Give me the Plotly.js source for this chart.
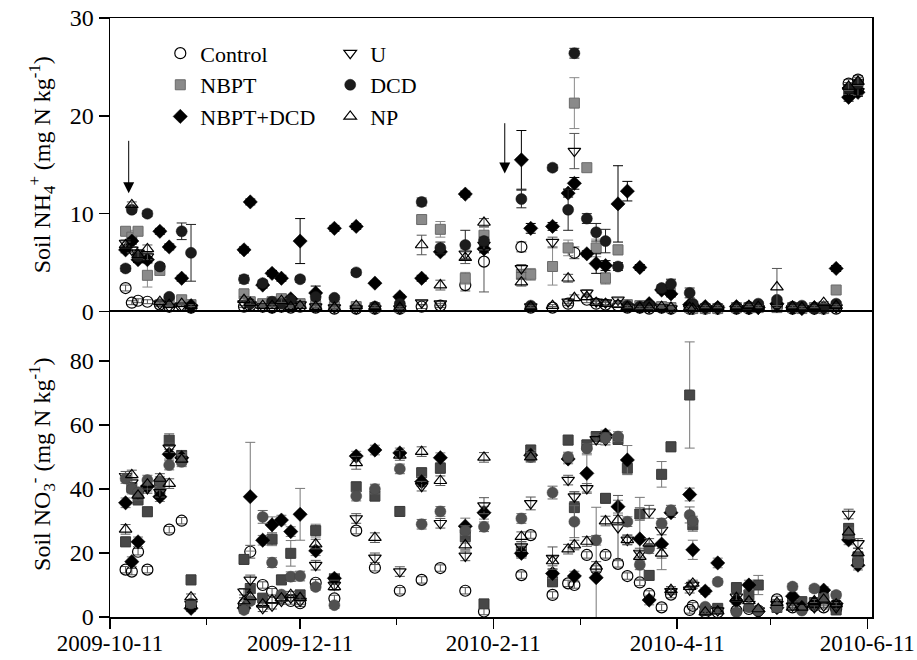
<!DOCTYPE html>
<html><head><meta charset="utf-8">
<script src="https://cdn.plot.ly/plotly-3.0.1.min.js"></script>
<style>html,body{margin:0;padding:0;background:#fff}#chart{width:917px;height:660px}</style>
</head><body><div id="chart"></div>
<script>
// Sampling dates
const dates = [
 '2009-10-16','2009-10-18','2009-10-20','2009-10-23','2009-10-27','2009-10-30','2009-11-03','2009-11-06',
 '2009-11-23','2009-11-25','2009-11-29','2009-12-02','2009-12-05','2009-12-08','2009-12-11','2009-12-16','2009-12-22','2009-12-29',
 '2010-01-04','2010-01-12','2010-01-19','2010-01-25','2010-02-02','2010-02-08',
 '2010-02-20','2010-02-23','2010-03-02','2010-03-07','2010-03-09','2010-03-13','2010-03-16','2010-03-19','2010-03-23','2010-03-26','2010-03-30',
 '2010-04-02','2010-04-06','2010-04-09','2010-04-15','2010-04-16','2010-04-20','2010-04-24',
 '2010-04-30','2010-05-04','2010-05-07','2010-05-13','2010-05-18','2010-05-21','2010-05-25','2010-05-28','2010-06-01',
 '2010-06-05','2010-06-08'];

const seriesNames = ['Control','NBPT','NBPT+DCD','U','DCD','NP'];

// Soil NH4+ (mg N kg-1)
const nhControl = [2.4,0.9,1.1,1.0,0.7,0.5,0.6,0.4,
 0.5,0.6,0.5,0.4,0.5,0.4,0.5,0.4,0.3,0.3,
 0.3,0.3,0.5,0.6,2.7,5.1,
 6.6,0.4,0.4,0.8,6.0,1.2,0.8,0.7,0.6,0.4,0.4,
 0.3,0.4,0.3,0.3,0.3,0.3,0.3,
 0.3,0.3,0.5,0.5,0.3,0.4,0.3,0.3,0.3,
 23.3,23.7];
const nhNBPT = [8.2,7.6,8.2,3.7,4.2,1.0,1.2,0.7,
 1.8,1.0,0.8,1.0,1.3,0.7,0.8,0.6,0.5,0.5,
 0.4,0.4,9.4,8.4,3.4,7.8,
 3.8,3.8,4.6,6.5,21.3,14.7,6.5,3.4,6.3,0.7,0.6,
 0.5,0.5,0.4,0.4,0.3,0.3,0.3,
 0.4,0.4,0.4,0.4,0.4,0.3,0.4,0.3,2.2,
 22.6,22.9];
const nhNBPTDCD = [6.3,7.2,5.3,5.3,8.2,6.6,3.4,0.6,
 6.3,11.2,2.7,3.9,3.4,1.3,7.2,1.9,8.5,8.7,
 2.9,1.5,3.4,6.1,12.0,6.4,
 15.5,8.5,8.7,12.1,13.1,5.9,4.9,4.7,11.0,12.3,4.5,
 0.8,2.2,1.8,0.7,0.6,0.5,0.4,
 0.5,0.4,0.4,0.8,0.4,0.3,0.4,0.4,4.4,
 21.9,22.4];
const nhU = [7.0,6.3,6.0,5.6,0.8,0.5,0.6,0.4,
 0.8,0.7,0.5,0.4,0.5,0.6,0.7,0.5,0.4,0.3,
 0.3,0.3,0.9,0.8,5.9,6.8,
 4.4,0.5,7.1,1.0,16.4,1.9,1.0,0.9,1.2,0.5,0.4,
 0.4,0.4,0.3,0.3,0.3,0.3,0.3,
 0.3,0.3,0.3,0.5,0.3,0.3,0.3,0.3,0.4,
 22.6,22.5];
const nhDCD = [4.4,10.4,5.6,10.0,4.6,1.5,8.2,6.0,
 3.3,0.8,2.9,1.0,0.8,1.2,3.3,1.5,1.4,4.0,
 0.5,0.8,11.2,6.5,6.8,7.2,
 11.5,0.6,14.7,10.4,26.4,9.5,8.1,7.2,4.6,0.6,0.5,
 0.6,2.4,2.8,1.9,0.8,0.4,0.4,
 0.4,0.5,0.8,1.2,0.5,0.6,0.3,0.4,0.8,
 22.8,23.3];
const nhNP = [6.8,10.9,5.8,6.4,1.0,0.7,0.8,0.6,
 1.2,0.9,0.6,0.6,1.1,0.5,0.6,0.5,0.4,0.6,
 0.5,0.4,6.8,2.7,5.5,9.1,
 3.0,0.5,0.6,3.4,1.4,1.5,0.9,0.8,0.7,0.5,0.4,
 0.4,0.5,0.4,0.4,0.3,0.5,0.5,
 0.5,0.6,0.5,2.5,0.5,0.4,0.5,0.9,0.6,
 23.0,23.5];

// NH4+ standard errors
const nhErrControl = [0.3,0.2,0.2,0.2,0.2,0.1,0.1,0.1,
 0.1,0.1,0.1,0.1,0.1,0.1,0.1,0.1,0.1,0.1,
 0.1,0.1,0.2,0.2,0.6,3.1,
 0.5,0.1,0.1,0.2,0.6,0.3,0.2,0.2,0.2,0.1,0.1,
 0.1,0.1,0.1,0.1,0.1,0.1,0.1,
 0.1,0.1,0.1,0.1,0.1,0.1,0.1,0.1,0.1,
 0.4,0.4];
const nhErrNBPT = [0.4,0.7,0.4,1.2,0.5,0.3,0.3,0.2,
 0.5,0.3,0.3,0.3,0.5,0.2,0.2,0.2,0.1,0.1,
 0.1,0.1,0.4,0.8,0.6,0.8,
 0.5,0.6,1.9,0.8,2.6,0.4,0.9,0.6,0.5,0.2,0.2,
 0.1,0.1,0.1,0.1,0.1,0.1,0.1,
 0.1,0.1,0.1,0.1,0.1,0.1,0.1,0.1,0.3,
 0.4,0.4];
const nhErrNBPTDCD = [0.3,0.3,0.3,0.3,0.3,0.3,0.3,0.1,
 0.3,0.3,0.3,0.3,0.3,0.2,2.3,0.7,0.3,0.3,
 0.2,0.2,0.3,0.3,0.3,0.4,
 3.0,0.5,0.4,0.4,0.6,0.3,1.0,0.5,3.9,1.0,0.3,
 0.1,0.3,0.3,0.1,0.1,0.1,0.1,
 0.1,0.1,0.1,0.2,0.1,0.1,0.1,0.1,0.3,
 0.4,0.4];
const nhErrU = [0.3,0.3,0.3,0.3,0.2,0.1,0.1,0.1,
 0.2,0.1,0.1,0.1,0.1,0.1,0.1,0.1,0.1,0.1,
 0.1,0.1,0.2,0.2,0.5,0.5,
 0.4,0.1,0.5,0.2,1.8,0.3,0.2,0.2,0.2,0.1,0.1,
 0.1,0.1,0.1,0.1,0.1,0.1,0.1,
 0.1,0.1,0.1,0.1,0.1,0.1,0.1,0.1,0.1,
 0.4,0.4];
const nhErrDCD = [0.3,0.3,0.3,0.3,0.3,0.2,0.85,2.9,
 0.4,0.2,0.3,0.2,0.2,0.2,0.3,0.3,0.2,0.3,
 0.1,0.2,0.4,0.6,1.5,0.4,
 0.9,0.1,0.3,2.1,0.5,0.5,0.9,1.2,0.4,0.1,0.1,
 0.1,0.3,0.5,0.5,0.2,0.1,0.1,
 0.1,0.1,0.2,0.2,0.1,0.1,0.1,0.1,0.2,
 0.4,0.4];
const nhErrNP = [0.3,0.3,0.3,0.4,0.2,0.1,0.1,0.1,
 0.3,0.2,0.1,0.1,0.2,0.1,0.1,0.1,0.1,0.1,
 0.1,0.1,1.0,0.5,0.6,0.4,
 0.4,0.1,0.1,0.4,0.3,0.3,0.2,0.2,0.2,0.1,0.1,
 0.1,0.1,0.1,0.1,0.1,0.1,0.1,
 0.1,0.1,0.1,1.9,0.1,0.1,0.1,0.1,0.1,
 0.4,0.4];

// Soil NO3- (mg N kg-1)
const noControl = [14.8,14.2,20.4,14.8,42.0,27.3,30.1,3.5,
 4.0,20.4,10.0,7.9,6.0,5.0,4.3,10.7,5.8,27.0,
 15.4,8.2,11.6,15.3,8.2,1.7,
 13.1,25.6,6.9,10.5,10.0,19.4,15.0,19.4,16.6,12.8,10.8,
 7.2,3.0,7.0,2.2,3.5,1.5,1.5,
 2.0,2.5,2.0,5.5,3.0,2.5,3.5,3.0,2.5,
 25.0,17.5];
const noNBPT = [23.5,40.5,36.6,32.9,40.0,55.3,50.5,11.6,
 18.0,8.9,5.9,24.3,11.6,19.9,6.9,27.0,12.0,40.7,
 37.8,33.0,45.1,46.5,25.1,4.1,
 20.5,52.2,11.0,55.3,34.2,53.8,56.4,37.1,55.5,46.5,32.2,
 13.0,44.6,53.2,69.4,28.8,2.0,2.7,
 9.2,6.9,10.0,3.0,5.3,4.8,4.5,6.0,2.2,
 27.7,18.8];
const noNBPTDCD = [35.7,17.3,23.5,40.9,37.6,50.9,49.8,2.7,
 2.8,37.6,24.0,28.8,30.3,26.7,32.1,20.7,12.1,50.3,
 52.2,51.3,42.3,49.8,28.4,32.6,
 19.9,50.6,13.6,49.4,12.8,44.9,12.3,56.9,34.5,49.1,24.4,
 5.3,22.8,32.6,38.3,21.0,8.1,16.9,
 5.0,10.0,1.7,2.9,6.5,3.0,4.2,8.4,4.2,
 24.1,16.2];
const noU = [44.0,42.0,38.5,40.2,39.0,52.9,49.0,4.0,
 7.9,11.6,2.7,3.5,5.0,6.0,5.0,16.2,10.0,30.8,
 18.5,14.2,40.9,29.3,19.1,34.8,
 22.0,35.5,18.4,42.8,37.6,40.2,55.5,55.3,28.0,24.1,20.0,
 32.9,27.2,8.0,8.5,10.0,2.5,2.0,
 6.3,4.0,2.0,4.0,3.5,2.5,3.0,3.5,3.0,
 32.2,23.0];
const noDCD = [43.3,40.0,39.0,42.8,42.3,47.5,48.5,4.2,
 2.2,5.0,31.3,17.0,7.0,12.6,12.8,9.4,3.7,37.8,
 40.0,46.3,29.0,33.0,27.0,28.2,
 30.8,50.0,38.9,50.0,29.8,52.7,24.0,56.0,56.4,29.8,16.3,
 21.4,29.3,33.4,31.9,30.0,3.2,11.0,
 1.5,3.0,2.0,3.0,9.5,2.0,8.9,6.0,6.9,
 26.0,17.0];
const noNP = [27.4,44.4,38.0,41.5,43.3,41.7,49.3,6.2,
 5.0,6.3,4.0,5.3,5.9,7.0,6.0,22.8,9.4,48.2,
 24.8,50.5,51.7,42.6,22.5,49.9,
 25.1,50.0,17.5,21.2,22.5,23.6,15.8,30.0,30.3,24.1,18.9,
 23.0,19.9,8.5,9.5,10.5,1.5,1.8,
 6.0,5.0,2.5,4.5,3.0,3.0,5.0,5.5,4.0,
 26.5,20.0];

// NO3- standard errors
const noErrControl = [1.0,1.0,1.0,1.0,1.0,1.0,1.0,0.8,
 1.0,2.0,1.0,1.0,1.0,1.0,1.0,1.0,1.0,1.0,
 1.0,1.0,1.0,1.0,1.0,1.0,
 1.0,1.0,1.0,1.0,1.0,1.0,1.0,1.0,1.0,1.0,1.0,
 1.0,1.0,1.0,1.0,1.0,0.5,0.5,
 0.5,0.5,0.5,1.0,0.5,0.5,0.5,0.5,0.5,
 1.0,1.0];
const noErrNBPT = [1.5,1.5,1.5,1.5,1.5,2.0,1.5,1.5,
 1.5,1.5,1.0,2.0,1.5,4.0,1.5,2.0,1.5,1.5,
 1.5,1.5,1.5,1.5,2.0,1.0,
 2.0,1.5,1.5,1.5,5.0,1.5,1.5,1.5,1.5,2.0,2.0,
 1.5,4.0,1.5,16.6,2.0,0.5,1.0,
 1.0,1.5,3.0,1.0,1.0,1.0,1.0,1.0,0.5,
 1.5,1.5];
const noErrNBPTDCD = [1.5,1.5,1.5,1.5,1.5,1.5,1.5,1.0,
 1.0,17.0,1.5,2.5,1.5,1.5,8.1,1.5,1.5,1.5,
 1.5,1.5,1.5,1.5,2.5,2.0,
 1.5,1.5,1.5,1.5,1.5,5.8,22.0,1.5,2.0,4.5,13.0,
 1.5,8.0,1.5,2.0,3.0,1.0,1.5,
 1.0,1.5,0.5,1.0,1.0,1.0,1.0,1.0,1.0,
 1.5,1.5];
const noErrU = [1.5,1.5,1.5,1.5,1.5,1.5,1.5,1.0,
 1.0,1.5,1.0,1.0,1.0,1.0,1.0,1.5,1.5,1.5,
 1.5,1.5,1.5,1.5,1.5,2.5,
 1.5,2.0,3.5,1.5,1.5,1.5,1.5,1.5,10.0,1.5,1.5,
 2.0,1.5,1.0,1.0,1.0,0.5,0.5,
 1.0,1.0,0.5,1.0,0.5,0.5,0.5,0.5,0.5,
 1.5,1.5];
const noErrDCD = [1.5,1.5,1.5,1.5,1.5,1.5,1.5,1.0,
 1.0,1.0,2.0,1.5,1.0,1.5,1.5,1.0,1.0,1.5,
 1.5,1.5,1.5,1.5,1.5,1.5,
 1.5,1.5,2.0,1.5,5.0,1.5,1.5,1.5,1.5,1.5,1.5,
 1.5,1.5,1.5,2.5,1.5,0.5,1.0,
 0.5,0.5,0.5,0.5,1.0,0.5,1.0,1.0,1.0,
 1.5,1.5];
const noErrNP = [1.5,1.5,1.5,1.5,1.5,1.5,1.5,1.0,
 1.0,1.0,1.0,1.0,1.0,1.0,1.0,1.5,1.0,2.0,
 1.5,1.5,1.5,1.5,1.5,1.5,
 1.5,1.5,1.5,1.5,1.5,1.5,1.5,1.5,1.5,1.5,1.5,
 1.5,1.5,1.0,1.0,1.0,0.5,0.5,
 1.0,1.0,0.5,1.0,0.5,0.5,0.5,0.5,0.5,
 1.5,1.5];

// Axis ticks
const xTickVals = ['2009-10-11','2009-12-11','2010-02-11','2010-04-11','2010-06-11'];
const xTickText = ['2009-10-11','2009-12-11','2010-2-11','2010-4-11','2010-6-11'];
const xMinorVals = ['2009-11-11','2010-01-11','2010-03-11','2010-05-11'];
const nhTicks = [0,10,20,30];
const noTicks = [0,20,40,60,80];

// Fertilizer application arrows (date, tail value, tip value) on NH4+ panel
const arrowDates = ['2009-10-17','2010-02-14 16:00'];
const arrowTail = [17.6,19.4];
const arrowTip = [12.1,14.1];

const nhVals = [nhControl,nhNBPT,nhNBPTDCD,nhU,nhDCD,nhNP];
const nhErrs = [nhErrControl,nhErrNBPT,nhErrNBPTDCD,nhErrU,nhErrDCD,nhErrNP];
const noVals = [noControl,noNBPT,noNBPTDCD,noU,noDCD,noNP];
const noErrs = [noErrControl,noErrNBPT,noErrNBPTDCD,noErrU,noErrDCD,noErrNP];

const FONT = '"Liberation Serif", "Times New Roman", serif';
const styleTop = [
 {symbol:'circle-open', size:11, color:'#000', line:{color:'#000',width:1.2}, err:'#555'},
 {symbol:'square', size:10, color:'#8a8a8a', line:{color:'#6a6a6a',width:1}, err:'#8a8a8a'},
 {symbol:'diamond', size:11, color:'#000', line:{color:'#000',width:0.5}, err:'#000'},
 {symbol:'triangle-down-open', size:11, color:'#000', line:{color:'#000',width:1.2}, err:'#555'},
 {symbol:'circle', size:11, color:'#1c1c1c', line:{color:'#111',width:0.5}, err:'#222'},
 {symbol:'triangle-up-open', size:11, color:'#000', line:{color:'#000',width:1.2}, err:'#555'}
];
const styleBot = [
 {symbol:'circle-open', size:11, color:'#000', line:{color:'#000',width:1.2}, err:'#555'},
 {symbol:'square', size:10, color:'#474747', line:{color:'#3a3a3a',width:1}, err:'#777'},
 {symbol:'diamond', size:11, color:'#000', line:{color:'#000',width:0.5}, err:'#777'},
 {symbol:'triangle-down-open', size:11, color:'#000', line:{color:'#000',width:1.2}, err:'#555'},
 {symbol:'circle', size:11, color:'#505050', line:{color:'#444',width:0.5}, err:'#666'},
 {symbol:'triangle-up-open', size:11, color:'#000', line:{color:'#000',width:1.2}, err:'#555'}
];

const traces = [];
seriesNames.forEach((name,i)=>{
  const s = styleTop[i];
  traces.push({
    type:'scatter', mode:'markers', name:name, x:dates, y:nhVals[i],
    xaxis:'x', yaxis:'y',
    legend: i<3 ? 'legend' : 'legend2',
    marker:{symbol:s.symbol, size:s.size, color:s.color, line:s.line},
    error_y:{type:'data', array:nhErrs[i], visible:true, color:s.err, thickness:1, width:5},
    cliponaxis:false, hoverinfo:'skip'
  });
});
seriesNames.forEach((name,i)=>{
  const s = styleBot[i];
  traces.push({
    type:'scatter', mode:'markers', name:name, x:dates, y:noVals[i],
    xaxis:'x2', yaxis:'y2', showlegend:false,
    marker:{symbol:s.symbol, size:s.size, color:s.color, line:s.line},
    error_y:{type:'data', array:noErrs[i], visible:true, color:s.err, thickness:1, width:5},
    cliponaxis:false, hoverinfo:'skip'
  });
});

const xRange = ['2009-10-11','2010-06-12 12:00'];
const tickFont = {family:FONT, size:24, color:'#000'};
const xTickFont = {family:FONT, size:23, color:'#000'};
const split = 0.51;

const annotations = arrowDates.map((d,i)=>({
  x:d, y:arrowTip[i], ax:d, ay:arrowTail[i], xref:'x', yref:'y', axref:'x', ayref:'y',
  showarrow:true, arrowhead:2, arrowsize:2.2, arrowwidth:1, arrowcolor:'#000', text:''
}));

const layout = {
  width:917, height:660,
  margin:{l:110, r:45, t:18, b:43},
  paper_bgcolor:'#fff', plot_bgcolor:'#fff',
  font:{family:FONT, color:'#000', size:22},
  showlegend:true,
  xaxis:{
    type:'date', range:xRange, anchor:'y', matches:'x2', side:'top',
    showticklabels:false, ticks:'', showgrid:false, zeroline:false,
    showline:true, mirror:false, linecolor:'#000', linewidth:1.5
  },
  xaxis2:{
    type:'date', range:xRange, anchor:'y2',
    tickmode:'array', tickvals:xTickVals, ticktext:xTickText,
    ticks:'outside', ticklen:10, tickwidth:1.5, tickcolor:'#000',
    ticklabelstandoff:-5,
    minor:{tickmode:'array', tickvals:xMinorVals, ticks:'outside', ticklen:6, tickwidth:1.5, tickcolor:'#000', showgrid:false},
    tickfont:xTickFont, showgrid:false, zeroline:false,
    showline:true, mirror:true, linecolor:'#000', linewidth:1.5
  },
  yaxis:{
    domain:[split,1], range:[0,30], anchor:'x',
    tickmode:'array', tickvals:nhTicks, ticks:'outside', ticklen:10, tickwidth:1.5, tickcolor:'#000',
    tickfont:tickFont, showgrid:false, zeroline:false,
    showline:true, mirror:true, linecolor:'#000', linewidth:1.5,
    automargin:false,
    title:{text:'Soil NH<sub>4</sub><sup>+</sup> (mg N kg<sup>-1</sup>)', font:{family:FONT, size:24, color:'#000'}, standoff:12}
  },
  yaxis2:{
    domain:[0,split], range:[0,95.5], anchor:'x2',
    tickmode:'array', tickvals:noTicks, ticks:'outside', ticklen:10, tickwidth:1.5, tickcolor:'#000',
    tickfont:tickFont, showgrid:false, zeroline:false,
    showline:true, mirror:true, linecolor:'#000', linewidth:1.5,
    automargin:false,
    title:{text:'Soil NO<sub>3</sub><sup>-</sup> (mg N kg<sup>-1</sup>)', font:{family:FONT, size:24, color:'#000'}, standoff:12}
  },
  legend:{x:0.066, y:0.976, xanchor:'left', yanchor:'top', bgcolor:'rgba(0,0,0,0)',
    font:{family:FONT, size:22, color:'#000'}, tracegroupgap:0, itemclick:false},
  legend2:{x:0.289, y:0.976, xanchor:'left', yanchor:'top', bgcolor:'rgba(0,0,0,0)',
    font:{family:FONT, size:22, color:'#000'}, tracegroupgap:0, itemclick:false},
  annotations:annotations
};

Plotly.newPlot('chart', traces, layout, {staticPlot:true, displayModeBar:false});
</script></body></html>
